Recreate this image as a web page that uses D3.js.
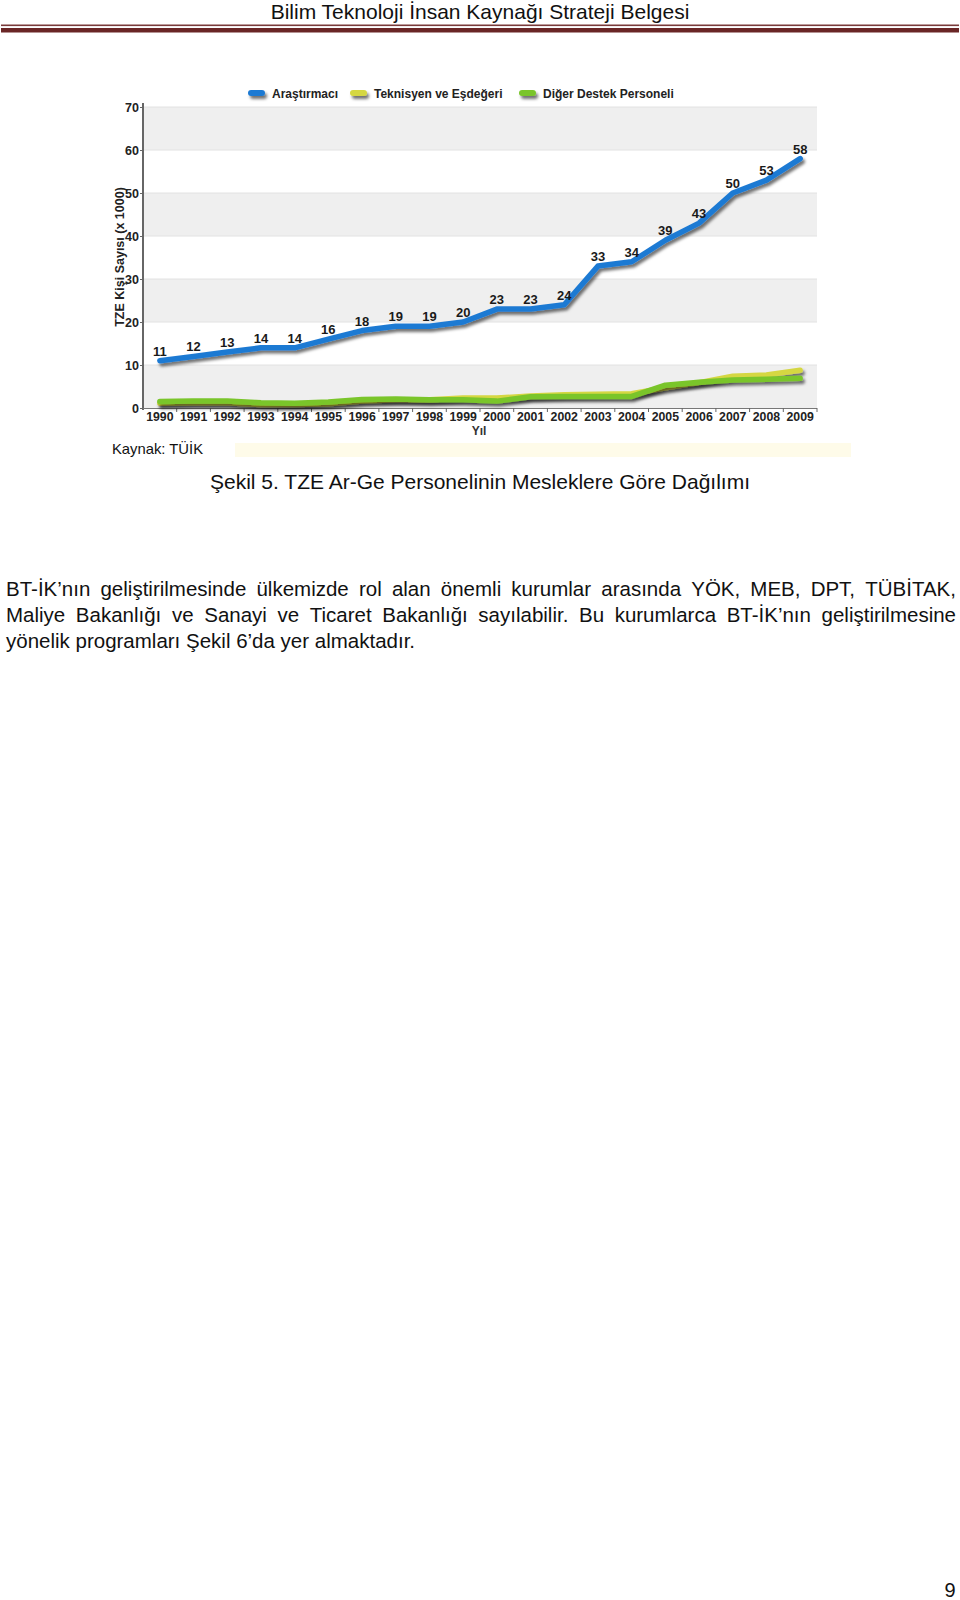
<!DOCTYPE html>
<html>
<head>
<meta charset="utf-8">
<script src="https://cdn.jsdelivr.net/npm/d3@7"></script>
<style>
  html, body { margin: 0; padding: 0; background: #fff; }
  svg { display: block; }
  .narrow { font-family: "Liberation Sans Narrow", "Arial Narrow", "Liberation Sans", Arial, sans-serif; }
  .bold { font-family: "Liberation Sans", Arial, sans-serif; font-weight: bold; }
</style>
</head>
<body>
<svg id="page" width="960" height="1600"></svg>
<script>
// ---------------- DATA ----------------
const years = ["1990","1991","1992","1993","1994","1995","1996","1997","1998","1999",
               "2000","2001","2002","2003","2004","2005","2006","2007","2008","2009"];
const arastirmaci = [11,12,13,14,14,16,18,19,19,20,23,23,24,33,34,39,43,50,53,58];
const teknisyen   = [1.1,1.2,1.2,0.8,0.8,1.0,1.6,1.9,1.9,2.3,2.3,2.8,3.1,3.2,3.3,4.7,5.9,7.4,7.7,8.8];
const destek      = [1.5,1.6,1.6,1.2,1.1,1.4,2.0,2.1,1.9,1.9,1.6,2.6,2.7,2.7,2.7,5.3,6.0,6.5,6.7,6.9];
const yTicks = [0,10,20,30,40,50,60,70];
const seriesNames = ["Araştırmacı","Teknisyen ve Eşdeğeri","Diğer Destek Personeli"];
const seriesColors = ["#1f7ad3","#d5d743","#7ac52c"];

const headerText = "Bilim Teknoloji İnsan Kaynağı Strateji Belgesi";
const captionText = "Şekil 5. TZE Ar-Ge Personelinin Mesleklere Göre Dağılımı";
const sourceText = "Kaynak: TÜİK";
const yTitle = "TZE Kişi Sayısı (x 1000)";
const xTitle = "Yıl";
const paragraph = [
  "BT-İK’nın geliştirilmesinde ülkemizde rol alan önemli kurumlar arasında YÖK, MEB, DPT, TÜBİTAK,",
  "Maliye Bakanlığı ve Sanayi ve Ticaret Bakanlığı sayılabilir. Bu kurumlarca BT-İK’nın geliştirilmesine",
  "yönelik programları Şekil 6’da yer almaktadır."
];
const pageNumber = "9";

// ---------------- PAGE ----------------
const svg = d3.select("#page");

// header
svg.append("text").attr("class","narrow")
  .attr("x",480).attr("y",19).attr("text-anchor","middle")
  .attr("font-size",21).attr("fill","#111").text(headerText);
svg.append("rect").attr("x",1).attr("y",24.5).attr("width",958).attr("height",1.6).attr("fill","#7a3a3a");
svg.append("rect").attr("x",1).attr("y",28).attr("width",958).attr("height",4.5).attr("fill","#6a2626");

// ---------------- CHART ----------------
const x = d3.scaleBand().domain(years).range([143, 817]).padding(0);
const y = d3.scaleLinear().domain([0,70]).range([408, 107]);
const cx = d => x(d) + x.bandwidth()/2;

const defs = svg.append("defs");
const f = defs.append("filter").attr("id","shadow").attr("filterUnits","userSpaceOnUse")
  .attr("x",0).attr("y",0).attr("width",960).attr("height",600);
f.append("feDropShadow").attr("dx",2).attr("dy",3).attr("stdDeviation",1.6)
  .attr("flood-color","#000").attr("flood-opacity",0.55);

const chart = svg.append("g");

// alternating bands
for (let i = 0; i < yTicks.length - 1; i++) {
  const lo = yTicks[i], hi = yTicks[i+1];
  if (i % 2 === 0) {
    chart.append("rect").attr("x",143).attr("width",817-143)
      .attr("y",y(hi)).attr("height",y(lo)-y(hi)).attr("fill","#efefef");
  }
}
// faint grid lines
chart.append("g").selectAll("line").data(yTicks.slice(1)).join("line")
  .attr("x1",143).attr("x2",817).attr("y1",d=>y(d)).attr("y2",d=>y(d))
  .attr("stroke","#e2e2e2").attr("stroke-width",1);

// y axis
const yAxis = d3.axisLeft(y).tickValues(yTicks).tickSize(3).tickPadding(1).tickFormat(d3.format("d"));
const yg = chart.append("g").attr("transform","translate(143,0)").call(yAxis);
yg.select(".domain").attr("stroke","#666").attr("stroke-width",2).attr("d","M0,103V410");
yg.selectAll(".tick line").attr("stroke","#666");
yg.selectAll(".tick text").attr("class","bold").attr("font-size",12.5).attr("fill","#222");

// x axis
const xAxis = d3.axisBottom(x).tickSize(0).tickPadding(4);
const xg = chart.append("g").attr("transform","translate(0,408)").call(xAxis);
xg.select(".domain").attr("stroke","#777").attr("stroke-width",1).attr("d","M143,0.5H817");
xg.selectAll(".tick text").attr("class","bold").attr("font-size",12.3).attr("fill","#222");
xg.append("g").selectAll("line").data(years).join("line")
  .attr("x1",(d,i)=>143 + (i+1)*x.bandwidth()).attr("x2",(d,i)=>143 + (i+1)*x.bandwidth())
  .attr("y1",0).attr("y2",4).attr("stroke","#666");

// axis titles
chart.append("text").attr("class","bold").attr("font-size",12.5).attr("fill","#222")
  .attr("transform","translate(124,257) rotate(-90)").attr("text-anchor","middle").text(yTitle);
chart.append("text").attr("class","bold").attr("font-size",12).attr("fill","#333")
  .attr("x",479).attr("y",435).attr("text-anchor","middle").text(xTitle);

// lines
const line = d3.line().x((d,i)=>cx(years[i])).y(d=>y(d)).curve(d3.curveLinear);
const allSeries = [arastirmaci, teknisyen, destek];
const drawOrder = [1,2,0];
drawOrder.forEach(k => {
  chart.append("path").datum(allSeries[k]).attr("d",line)
    .attr("fill","none").attr("stroke",seriesColors[k]).attr("stroke-width",5.5)
    .attr("stroke-linejoin","round").attr("stroke-linecap","round")
    .attr("filter","url(#shadow)");
});

// data labels for researchers
chart.append("g").selectAll("text").data(arastirmaci).join("text")
  .attr("class","bold").attr("font-size",13).attr("fill","#1a1a1a")
  .attr("x",(d,i)=>cx(years[i])).attr("y",d=>y(d)-5).attr("text-anchor","middle")
  .text(d=>d);

// legend
const legendPos = [248, 350, 519];
const lg = chart.append("g");
seriesNames.forEach((name,k) => {
  const lx = legendPos[k];
  lg.append("rect").attr("x",lx).attr("y",90).attr("width",17).attr("height",6).attr("rx",3)
    .attr("fill",seriesColors[k]).attr("filter","url(#shadow)");
  lg.append("text").attr("class","bold").attr("font-size",12).attr("fill","#222")
    .attr("x",lx+24).attr("y",97.5).text(name);
});

// source + light strip
svg.append("rect").attr("x",235).attr("y",443).attr("width",616).attr("height",14).attr("fill","#fefbe9");
svg.append("text").attr("font-family","'Liberation Sans', Arial, sans-serif")
  .attr("font-size",14.8).attr("fill","#111").attr("x",112).attr("y",454).text(sourceText);

// caption
svg.append("text").attr("class","narrow").attr("font-size",21).attr("fill","#111")
  .attr("x",480).attr("y",489).attr("text-anchor","middle").text(captionText);

// paragraph (justified)
const pg = svg.append("g").attr("class","narrow").attr("font-size",20.5).attr("fill","#111");
const lineYs = [596, 622, 648];
paragraph.forEach((ln, li) => {
  const words = ln.split(" ");
  const x0 = 6, x1 = 956;
  const nodes = words.map(w => pg.append("text").attr("y",lineYs[li]).text(w));
  const widths = nodes.map(n => n.node().getComputedTextLength());
  const total = d3.sum(widths);
  let gap;
  if (li < paragraph.length - 1) {
    gap = (x1 - x0 - total) / (words.length - 1);
  } else {
    const sp = pg.append("text").text("a a");
    const sp2 = pg.append("text").text("aa");
    gap = sp.node().getComputedTextLength() - sp2.node().getComputedTextLength();
    sp.remove(); sp2.remove();
  }
  let cur = x0;
  nodes.forEach((n,i) => { n.attr("x",cur); cur += widths[i] + gap; });
});

// page number
svg.append("text").attr("class","narrow").attr("font-size",20).attr("fill","#111")
  .attr("x",950).attr("y",1597).attr("text-anchor","middle").text(pageNumber);
</script>
</body>
</html>
